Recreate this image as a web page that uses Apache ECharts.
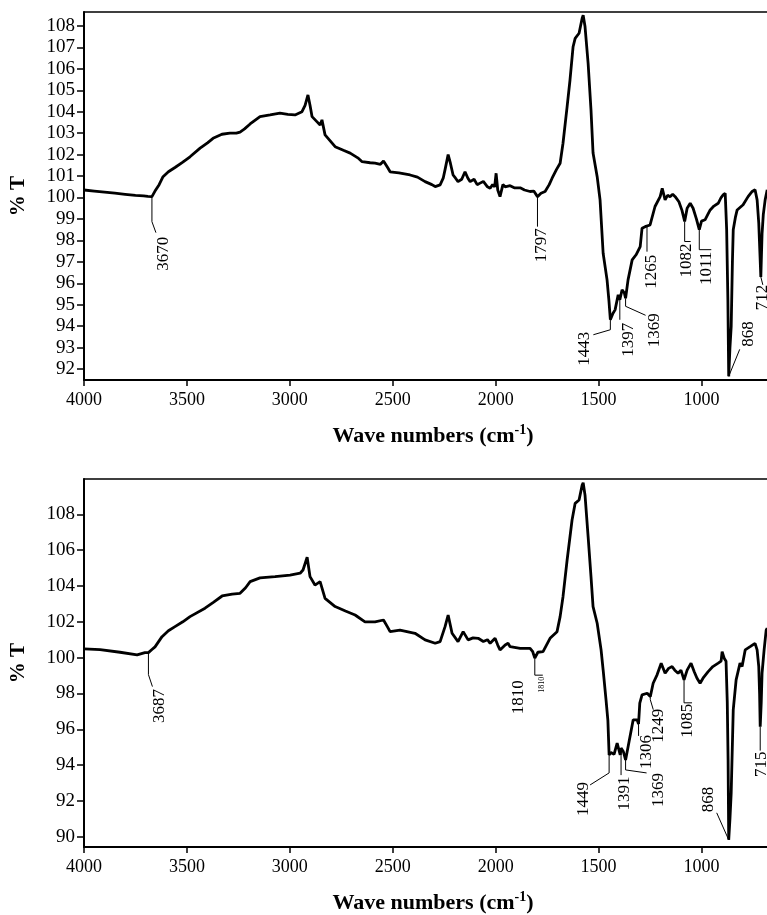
<!DOCTYPE html>
<html><head><meta charset="utf-8">
<script src="https://cdn.jsdelivr.net/npm/echarts@6/dist/echarts.min.js"></script>
<style>html,body{margin:0;padding:0;background:#fff}#c{width:767px;height:915px}</style>
</head><body><div id="c"></div>
<script>
const xTicks = [4000, 3500, 3000, 2500, 2000, 1500, 1000];
const yTicksTop = [92, 93, 94, 95, 96, 97, 98, 99, 100, 101, 102, 103, 104, 105, 106, 107, 108];
const yTicksBottom = [90, 92, 94, 96, 98, 100, 102, 104, 106, 108];

const topWave = [4000,3950,3900,3850,3800,3750,3710,3690,3670,3655,3635,3616,3590,3558,3520,3485,3436,3400,3373,3330,3291,3260,3242,3220,3193,3145,3096,3048,3010,2975,2941,2926,2912,2902,2892,2870,2853,2844,2829,2780,2740,2707,2670,2649,2610,2586,2560,2545,2537,2525,2513,2470,2416,2380,2343,2310,2294,2270,2255,2246,2231,2220,2207,2195,2183,2165,2149,2135,2124,2105,2090,2076,2060,2040,2027,2015,2005,1998,1990,1979,1965,1954,1930,1910,1881,1860,1833,1815,1797,1780,1760,1740,1726,1705,1687,1673,1653,1639,1624,1614,1595,1580,1575,1566,1551,1537,1527,1507,1493,1478,1459,1450,1443,1430,1420,1405,1397,1386,1375,1369,1357,1337,1318,1298,1289,1274,1265,1250,1226,1201,1191,1177,1165,1153,1140,1128,1110,1104,1095,1082,1070,1055,1041,1025,1011,1000,983,970,958,940,919,905,895,885,878,872,868,862,856,850,846,835,827,798,774,754,740,730,722,716,712,706,700,691,681];
const topTrans = [100.35,100.3,100.25,100.2,100.15,100.1,100.08,100.05,100.04,100.3,100.6,100.97,101.2,101.4,101.65,101.9,102.3,102.55,102.76,102.95,103.0,103.0,103.05,103.2,103.43,103.77,103.85,103.93,103.88,103.85,104.0,104.3,104.78,104.3,103.77,103.55,103.38,103.62,102.92,102.37,102.2,102.07,101.85,101.67,101.62,101.6,101.55,101.7,101.67,101.4,101.2,101.15,101.05,100.95,100.74,100.6,100.51,100.59,100.9,101.3,102.0,101.6,101.05,100.9,100.74,100.85,101.2,100.9,100.74,100.85,100.6,100.67,100.75,100.5,100.43,100.6,100.5,101.13,100.35,100.04,100.6,100.5,100.55,100.45,100.45,100.35,100.28,100.3,100.04,100.2,100.28,100.6,100.9,101.3,101.6,102.53,104.24,105.48,107.03,107.42,107.66,108.36,108.5,107.97,106.26,104.08,102.07,100.97,99.89,97.4,96.16,95.2,94.3,94.6,94.76,95.46,95.23,95.7,95.55,95.3,96.16,97.09,97.33,97.71,98.57,98.64,98.64,98.72,99.58,100.04,100.43,99.89,100.1,100.04,100.15,100.04,99.8,99.73,99.4,98.88,99.5,99.73,99.5,99.0,98.5,98.9,98.96,99.2,99.42,99.6,99.73,100.0,100.12,100.2,98.5,95.2,91.66,93.0,93.98,97.0,98.5,99.1,99.42,99.66,100.04,100.28,100.36,99.89,98.8,97.3,96.3,98.3,99.2,99.89,100.36];

const bottomWave = [4000,3922,3825,3742,3704,3687,3670,3655,3621,3590,3558,3520,3485,3412,3370,3329,3280,3242,3215,3193,3145,3072,2999,2950,2936,2916,2902,2878,2853,2829,2780,2730,2683,2635,2586,2545,2537,2525,2513,2465,2392,2343,2294,2270,2246,2231,2212,2183,2158,2134,2110,2085,2060,2040,2027,2003,1990,1979,1954,1940,1930,1881,1833,1820,1810,1795,1770,1736,1702,1687,1673,1653,1629,1614,1595,1580,1575,1566,1551,1537,1527,1507,1488,1478,1464,1455,1449,1440,1425,1410,1395,1391,1380,1369,1352,1332,1313,1306,1300,1289,1264,1249,1235,1216,1196,1177,1160,1143,1130,1114,1100,1085,1070,1051,1035,1022,1007,990,968,945,919,905,900,890,881,875,871,868,862,856,846,832,813,803,788,764,740,730,722,718,715,710,706,696,686,681];
const bottomTrans = [100.49,100.45,100.3,100.15,100.28,100.28,100.45,100.6,101.17,101.5,101.73,102.0,102.29,102.76,103.1,103.44,103.55,103.59,103.9,104.24,104.45,104.52,104.61,104.71,104.89,105.6,104.52,104.05,104.24,103.31,102.85,102.6,102.38,102.0,102.0,102.1,102.15,101.7,101.45,101.54,101.36,100.99,100.8,100.89,101.73,102.38,101.36,100.89,101.45,100.99,101.1,101.08,100.9,101.0,100.8,101.08,100.7,100.43,100.71,100.8,100.61,100.52,100.52,100.33,99.97,100.3,100.33,101.08,101.45,102.29,103.4,105.45,107.68,108.61,108.8,109.63,109.76,109.07,106.75,104.52,102.85,101.92,100.43,99.31,97.64,96.5,94.57,94.7,94.6,95.23,94.57,94.95,94.76,94.29,95.32,96.53,96.53,96.3,97.46,97.92,98.01,97.82,98.57,99.04,99.69,99.13,99.4,99.5,99.3,99.13,99.3,98.76,99.3,99.69,99.2,98.85,98.57,98.9,99.22,99.5,99.69,99.8,100.33,99.97,99.8,97.5,94.29,89.83,91.0,92.44,97.08,98.76,99.69,99.5,100.43,100.61,100.8,100.43,99.5,98.0,96.15,97.5,99.13,100.43,101.54,101.65];

const topPeaks = [3670, 1797, 1443, 1397, 1369, 1265, 1082, 1011, 868, 712];
const bottomPeaks = [3687, 1810, 1449, 1391, 1369, 1306, 1249, 1085, 868, 715];

// leader-line and label offsets (pixels, relative to the peak point)
const topLayout = [
  {lead: [[0,0],[0,25],[4,36]], texts: [{dx: 11.4, dy: 40}]},
  {lead: [[0,0],[0,30]], texts: [{dx: 4, dy: 31.5}]},
  {lead: [[0,0],[0,10],[-17,15]], texts: [{dx: -26, dy: 12}]},
  {lead: [[0,0],[0,20]], texts: [{dx: 9, dy: 23}]},
  {lead: [[0,0],[0,8],[20,17]], texts: [{dx: 28.5, dy: 15}]},
  {lead: [[0,0],[0,25]], texts: [{dx: 5, dy: 28}]},
  {lead: [[0,0],[0,20],[6,20]], texts: [{dx: 2, dy: 22}]},
  {lead: [[0,0],[0,20],[12,20]], texts: [{dx: 7, dy: 22}]},
  {lead: [[0,0],[11,-27]], texts: [{dx: 20, dy: -55}]},
  {lead: [[0,0],[2,8]], texts: [{dx: 2, dy: 8}]}
];
const bottomLayout = [
  {lead: [[0,0],[0,22],[4,34]], texts: [{dx: 11, dy: 36.5}]},
  {lead: [[0,0],[0,17],[8,17]], texts: [{dx: 7, dy: 18.5, f: 8}, {dx: -16, dy: 22}]},
  {lead: [[0,0],[0,18],[-19,30]], texts: [{dx: -26, dy: 27}]},
  {lead: [[0,0],[0,27]], texts: [{dx: 3, dy: 28.5}]},
  {lead: [[0,0],[0,10],[21,13]], texts: [{dx: 33, dy: 13}]},
  {lead: [[0,0],[0,12]], texts: [{dx: 7.5, dy: 11}]},
  {lead: [[0,0],[0,3],[3,13]], texts: [{dx: 8, dy: 12}]},
  {lead: [[0,0],[0,23],[8,23]], texts: [{dx: 3, dy: 24}]},
  {lead: [[0,0],[-12,-27]], texts: [{dx: -20, dy: -53}]},
  {lead: [[0,0],[0,24]], texts: [{dx: 1.5, dy: 25}]}
];

const FONT = '"Liberation Serif", "Times New Roman", serif';
const XMIN = 682, XMAX = 4000;
const plain = v => String(v);

function xAxes(g) {
  return [
    {type: 'value', gridIndex: g, inverse: true, min: XMIN, max: XMAX,
     axisLine: {show: true, onZero: false, lineStyle: {color: '#000', width: 2}},
     axisTick: {show: true, length: 6, customValues: xTicks, lineStyle: {color: '#000', width: 1.5}},
     axisLabel: {customValues: xTicks, formatter: plain, margin: 11, color: '#000', fontSize: 18, fontFamily: FONT},
     splitLine: {show: false}},
    {type: 'value', gridIndex: g, position: 'top', inverse: true, min: XMIN, max: XMAX,
     axisLine: {show: true, onZero: false, lineStyle: {color: '#000', width: 1.5}},
     axisTick: {show: false}, axisLabel: {show: false}, splitLine: {show: false}}
  ];
}
function yAxis(g, min, max, ticks) {
  return {type: 'value', gridIndex: g, min: min, max: max,
    axisLine: {show: true, onZero: false, lineStyle: {color: '#000', width: 2}},
    axisTick: {show: true, length: 7, customValues: ticks, lineStyle: {color: '#000', width: 1.5}},
    axisLabel: {customValues: ticks, formatter: plain, margin: 9, color: '#000', fontSize: 19, fontFamily: FONT},
    splitLine: {show: false},
    name: '% T', nameLocation: 'middle', nameGap: 55, nameRotate: 90,
    nameTextStyle: {fontSize: 21, fontWeight: 'bold', fontFamily: FONT, color: '#000'}};
}
function lineSeries(g, wave, trans) {
  return {type: 'line', xAxisIndex: g * 2, yAxisIndex: g, showSymbol: false, symbol: 'none',
    data: wave.map((w, i) => [w, trans[i]]),
    lineStyle: {color: '#000', width: 2.8}, animation: false, z: 3};
}
function annoSeries(g, peaks, wave, trans, layout) {
  return {type: 'custom', xAxisIndex: g * 2, yAxisIndex: g, silent: true, animation: false, z: 4,
    data: peaks.map(w => [w, trans[wave.indexOf(w)]]),
    renderItem: function (params, api) {
      const p = api.coord([api.value(0), api.value(1)]);
      const L = layout[params.dataIndex];
      const label = String(peaks[params.dataIndex]);
      const children = [{type: 'polyline',
        shape: {points: L.lead.map(d => [p[0] + d[0], p[1] + d[1]])},
        style: {stroke: '#000', lineWidth: 1, fill: null}}];
      L.texts.forEach(t => children.push({type: 'text', x: p[0] + t.dx, y: p[1] + t.dy, rotation: Math.PI / 2,
        style: {text: label, font: (t.f || 17) + 'px ' + FONT, fill: '#000', align: 'right', verticalAlign: 'middle'}}));
      return {type: 'group', children: children};
    }};
}
const titleRich = {
  a: {fontSize: 22, fontWeight: 'bold', fontFamily: FONT, color: '#000'},
  s: {fontSize: 14, fontWeight: 'bold', fontFamily: FONT, color: '#000', padding: [0, 0, 12, 0]}
};
const titleText = '{a|Wave numbers (cm}{s|-1}{a|)}';

const chart = echarts.init(document.getElementById('c'), null, {renderer: 'canvas'});
chart.setOption({
  backgroundColor: '#fff',
  animation: false,
  grid: [
    {left: 84, right: 0, top: 12, height: 368},
    {left: 84, right: 0, top: 479, height: 368}
  ],
  xAxis: xAxes(0).concat(xAxes(1)),
  yAxis: [yAxis(0, 91.49, 108.65, yTicksTop), yAxis(1, 89.43, 109.97, yTicksBottom)],
  series: [
    lineSeries(0, topWave, topTrans),
    lineSeries(1, bottomWave, bottomTrans),
    annoSeries(0, topPeaks, topWave, topTrans, topLayout),
    annoSeries(1, bottomPeaks, bottomWave, bottomTrans, bottomLayout)
  ],
  graphic: [
    {type: 'text', x: 433, y: 436, style: {text: titleText, rich: titleRich, align: 'center', verticalAlign: 'middle'}},
    {type: 'text', x: 433, y: 903, style: {text: titleText, rich: titleRich, align: 'center', verticalAlign: 'middle'}}
  ]
});
</script></body></html>
